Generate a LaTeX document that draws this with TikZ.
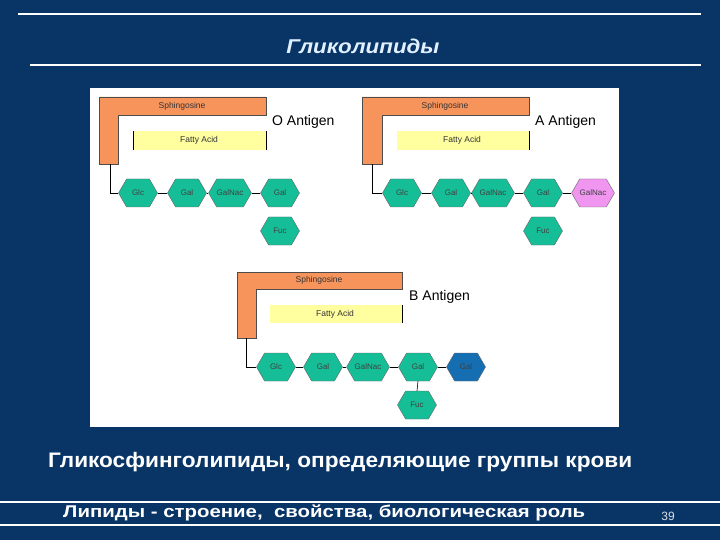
\documentclass[tikz,border=0pt]{standalone}
\usepackage{fontspec}
\setmainfont{Liberation Sans}
\usetikzlibrary{shapes.symbols}
\definecolor{bgblue}{RGB}{8,52,102}
\definecolor{sphc}{RGB}{247,148,92}
\definecolor{fac}{RGB}{255,255,160}
\definecolor{hexteal}{RGB}{22,190,152}
\definecolor{hexpink}{RGB}{240,150,240}
\definecolor{hexblue}{RGB}{22,110,178}
\definecolor{titlec}{RGB}{225,240,255}
\tikzset{
  hexn/.style={shape=signal, signal to=east and west, signal pointer angle=120,
    minimum width=39pt, minimum height=28pt, inner sep=0pt, draw=black!60, line width=0.4pt,
    fill=hexteal, font=\fontsize{8}{9}\selectfont, text=black!75},
  sph/.style={fill=sphc, draw=black!70, line width=0.5pt},
  smalltxt/.style={font=\fontsize{8.5}{10}\selectfont, text=black!80, inner sep=0pt},
  antlabel/.style={font=\fontsize{14}{16}\selectfont, anchor=west, inner sep=0pt},
  link/.style={draw=black, line width=0.6pt},
  whiteline/.style={draw=white, line width=1.2pt}
}
\begin{document}
\begin{tikzpicture}[x=1pt,y=-1pt]
\useasboundingbox (0,0) rectangle (720,540);
\fill[bgblue] (0,0) rectangle (720,540);
% header
\draw[whiteline] (18,14) -- (701,14);
\draw[whiteline] (30,65) -- (701,65);
\node[text=titlec, font=\fontsize{20}{22}\selectfont\bfseries\itshape] (title) at (363,46)
  {\resizebox{153pt}{\height}{Гликолипиды}};
% panel
\fill[white] (90,88) rectangle (619,427);
% ---------- O antigen ----------
\begin{scope}[shift={(99,97)}]
  \fill[fac] (34,34) rectangle (167,53);
  \draw[black, line width=0.5pt] (34,34) -- (34,53) (167,34) -- (167,53);
  \path[sph] (0,0) -- (167,0) -- (167,18) -- (19,18) -- (19,67) -- (0,67) -- cycle;
  \node[smalltxt] (osph) at (83,9) {Sphingosine};
  \node[smalltxt] (ofa) at (100,43) {Fatty Acid};
  \node[antlabel] (olab) at (173,25) {O Antigen};
  \coordinate (ostart) at (11,67);
  \node[hexn] (oglc) at (39,96) {Glc};
  \node[hexn] (ogal1) at (88,96) {Gal};
  \node[hexn] (ogalnac) at (131,96) {GalNac};
  \node[hexn] (ogal2) at (181,96) {Gal};
  \node[hexn] (ofuc) at (181,134) {Fuc};
  \draw[link] (ostart) |- (oglc.west);
  \draw[link] (oglc.east) -- (ogal1.west);
  \draw[link] (ogal1.east) -- (ogalnac.west);
  \draw[link] (ogalnac.east) -- (ogal2.west);
\end{scope}
% ---------- A antigen ----------
\begin{scope}[shift={(362,97)}]
  \fill[fac] (35,34) rectangle (167,53);
  \draw[black, line width=0.5pt] (167,34) -- (167,53);
  \path[sph] (0,0) -- (167,0) -- (167,18) -- (20,18) -- (20,67) -- (0,67) -- cycle;
  \node[smalltxt] (asph) at (83,9) {Sphingosine};
  \node[smalltxt] (afa) at (100,43) {Fatty Acid};
  \node[antlabel] (alab) at (173,25) {A Antigen};
  \coordinate (astart) at (10,67);
  \node[hexn] (aglc) at (40,96) {Glc};
  \node[hexn] (agal1) at (89,96) {Gal};
  \node[hexn] (agalnac) at (131,96) {GalNac};
  \node[hexn] (agal2) at (181,96) {Gal};
  \node[hexn, fill=hexpink] (agalnac2) at (231,96) {GalNac};
  \node[hexn] (afuc) at (181,134) {Fuc};
  \draw[link] (astart) |- (aglc.west);
  \draw[link] (aglc.east) -- (agal1.west);
  \draw[link] (agal1.east) -- (agalnac.west);
  \draw[link] (agalnac.east) -- (agal2.west);
  \draw[link] (agal2.east) -- (agalnac2.west);
\end{scope}
% ---------- B antigen ----------
\begin{scope}[shift={(237,272)}]
  \fill[fac] (33,33) rectangle (165,51);
  \draw[black, line width=0.5pt] (165,33) -- (165,51);
  \path[sph] (0,0) -- (165,0) -- (165,17) -- (19,17) -- (19,66) -- (0,66) -- cycle;
  \node[smalltxt] (bsph) at (82,8) {Sphingosine};
  \node[smalltxt] (bfa) at (98,42) {Fatty Acid};
  \node[antlabel] (blab) at (172,25) {B Antigen};
  \coordinate (bstart) at (9,66);
  \node[hexn] (bglc) at (39,95) {Glc};
  \node[hexn] (bgal1) at (86,95) {Gal};
  \node[hexn] (bgalnac) at (131,95) {GalNac};
  \node[hexn] (bgal2) at (181,95) {Gal};
  \node[hexn, fill=hexblue] (bgal3) at (229,95) {Gal};
  \node[hexn] (bfuc) at (180,133) {Fuc};
  \draw[link] (bstart) |- (bglc.west);
  \draw[link] (bglc.east) -- (bgal1.west);
  \draw[link] (bgal1.east) -- (bgalnac.west);
  \draw[link] (bgalnac.east) -- (bgal2.west);
  \draw[link] (bgal2.east) -- (bgal3.west);
  \draw[link] (bgal2.south) -- (bfuc.north);
\end{scope}
% caption
\node[text=white, font=\fontsize{21}{24}\selectfont\bfseries, anchor=west, inner sep=0pt] (cap) at (48,462)
  {\resizebox{584pt}{\height}{Гликосфинголипиды, определяющие группы крови}};
% footer
\draw[whiteline] (0,502) -- (720,502);
\draw[whiteline] (0,525) -- (720,525);
\node[text=white, font=\fontsize{17}{19}\selectfont\bfseries, anchor=west, inner sep=0pt] (foot) at (63,513)
  {\resizebox{522pt}{\height}{Липиды - строение,\ \ свойства, биологическая роль}};
\node[text=white!85!bgblue, font=\fontsize{12}{14}\selectfont, inner sep=0pt] (pnum) at (668,516) {39};
\end{tikzpicture}
\end{document}
